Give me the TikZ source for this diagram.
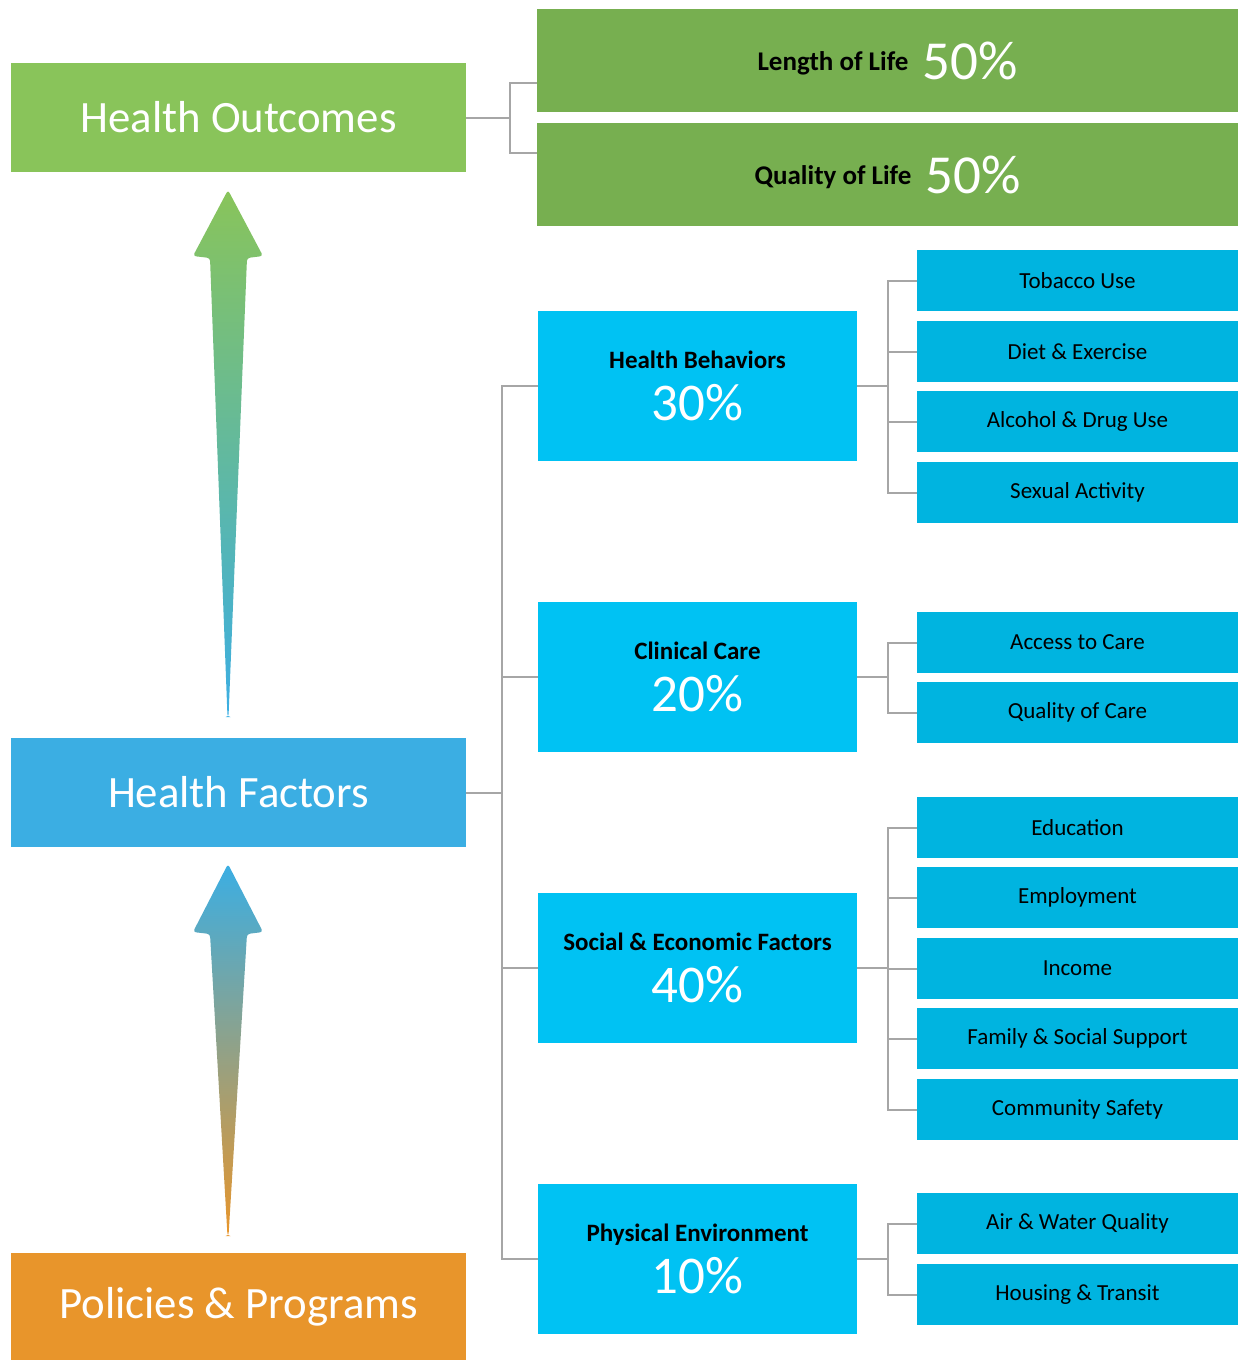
\documentclass[tikz,border=0pt]{standalone}
\usepackage{fontspec}
\setmainfont{Carlito}

\definecolor{outcomegreen}{HTML}{89C45A}
\definecolor{lifegreen}{HTML}{77AF50}
\definecolor{factorblue}{HTML}{3BAEE3}
\definecolor{policyorange}{HTML}{E8952B}
\definecolor{factorcyan}{HTML}{00C2F3}
\definecolor{itemcyan}{HTML}{00B4E0}
\definecolor{linkgray}{HTML}{A6A6A6}

\newcommand{\lbl}[1]{{\color{black}\fontsize{12.5}{14}\selectfont\bfseries #1}}
\newcommand{\lifelbl}[1]{{\color{black}\fontsize{13.5}{15}\selectfont\bfseries #1}}

\begin{document}
\begin{tikzpicture}[x=0.5pt,y=-0.5pt]
    \tikzstyle{every node}=[inner sep=0pt, outer sep=0pt]
    \tikzstyle{bigbox}=[minimum width=227.5pt, minimum height=54.5pt, text=white, font=\fontsize{22.4}{26}\selectfont]
    \tikzstyle{lifebox}=[fill=lifegreen, minimum width=350.5pt, minimum height=51.5pt, text=white, font=\fontsize{27.5}{30}\selectfont]
    \tikzstyle{factorbox}=[fill=factorcyan, minimum width=159.5pt, minimum height=75pt, align=center, text=white, font=\fontsize{26.5}{26}\selectfont]
    \tikzstyle{itembox}=[fill=itemcyan, minimum width=160.5pt, minimum height=30.5pt, font=\fontsize{11.5}{13}\selectfont]
    \tikzstyle{link}=[draw=linkgray, line width=1pt]

    \useasboundingbox (0,0) rectangle (1238,1360);

    % arrows
    \shade[top color=outcomegreen, bottom color=factorblue, rounded corners=1.5pt]
        (228,190) -- (263,256) -- (247,258) -- (228.5,717) -- (227.5,717) -- (210,258) -- (193,256) -- cycle;
    \shade[top color=factorblue, bottom color=policyorange, rounded corners=1.5pt]
        (228,864) -- (263,932) -- (247,934) -- (228.5,1236) -- (227.5,1236) -- (210,934) -- (193,932) -- cycle;

    % left column
    \node[bigbox, fill=outcomegreen] (ho) at (238.5,117.5) {Health Outcomes};
    \node[bigbox, fill=factorblue] (hf) at (238.5,792.5) {Health Factors};
    \node[bigbox, fill=policyorange] (pp) at (238.5,1307) {Policies \& Programs};

    % outcomes
    \node[lifebox] (lol) at (887.5,60.5) {\raisebox{4.5pt}{\lifelbl{Length of Life}}\hspace{7pt}50\%};
    \node[lifebox] (qol) at (887.5,174.5) {\raisebox{4.5pt}{\lifelbl{Quality of Life}}\hspace{7pt}50\%};

    % factors
    \node[factorbox] (hb) at (697.5,386) {\lbl{Health Behaviors}\\30\%};
    \node[factorbox] (cc) at (697.5,677) {\lbl{Clinical Care}\\20\%};
    \node[factorbox] (se) at (697.5,968) {\lbl{Social \& Economic Factors}\\40\%};
    \node[factorbox] (pe) at (697.5,1259) {\lbl{Physical Environment}\\10\%};

    % items
    \node[itembox] (tob) at (1077.5,280.5) {Tobacco Use};
    \node[itembox] (diet) at (1077.5,351.5) {Diet \& Exercise};
    \node[itembox] (alc) at (1077.5,421.5) {Alcohol \& Drug Use};
    \node[itembox] (sex) at (1077.5,492.5) {Sexual Activity};
    \node[itembox] (acc) at (1077.5,642.5) {Access to Care};
    \node[itembox] (qoc) at (1077.5,712.5) {Quality of Care};
    \node[itembox] (edu) at (1077.5,827.5) {Education};
    \node[itembox] (emp) at (1077.5,897.5) {Employment};
    \node[itembox] (inc) at (1077.5,968.5) {Income};
    \node[itembox] (fam) at (1077.5,1038.5) {Family \& Social Support};
    \node[itembox] (saf) at (1077.5,1109.5) {Community Safety};
    \node[itembox] (air) at (1077.5,1223.5) {Air \& Water Quality};
    \node[itembox] (hou) at (1077.5,1294.5) {Housing \& Transit};

    % links
    \coordinate (outbus) at (510,0);
    \coordinate (factorbus) at (502,0);
    \coordinate (itembus) at (888,0);
    \coordinate (lolin) at ([yshift=14.5pt]lol.south west);
    \coordinate (qolin) at ([yshift=-15pt]qol.north west);

    \draw[link] (ho.east) -| (outbus |- lolin) -- (lolin);
    \draw[link] (ho.east) -| (outbus |- qolin) -- (qolin);

    \draw[link] (hf.east) -| (factorbus |- hb.west) -- (hb.west);
    \draw[link] (hf.east) -| (factorbus |- cc.west) -- (cc.west);
    \draw[link] (hf.east) -| (factorbus |- se.west) -- (se.west);
    \draw[link] (hf.east) -| (factorbus |- pe.west) -- (pe.west);

    \draw[link] (hb.east) -| (itembus |- tob.west) -- (tob.west);
    \draw[link] (hb.east) -| (itembus |- diet.west) -- (diet.west);
    \draw[link] (hb.east) -| (itembus |- alc.west) -- (alc.west);
    \draw[link] (hb.east) -| (itembus |- sex.west) -- (sex.west);
    \draw[link] (cc.east) -| (itembus |- acc.west) -- (acc.west);
    \draw[link] (cc.east) -| (itembus |- qoc.west) -- (qoc.west);
    \draw[link] (se.east) -| (itembus |- edu.west) -- (edu.west);
    \draw[link] (se.east) -| (itembus |- emp.west) -- (emp.west);
    \draw[link] (se.east) -| (itembus |- inc.west) -- (inc.west);
    \draw[link] (se.east) -| (itembus |- fam.west) -- (fam.west);
    \draw[link] (se.east) -| (itembus |- saf.west) -- (saf.west);
    \draw[link] (pe.east) -| (itembus |- air.west) -- (air.west);
    \draw[link] (pe.east) -| (itembus |- hou.west) -- (hou.west);
\end{tikzpicture}
\end{document}
